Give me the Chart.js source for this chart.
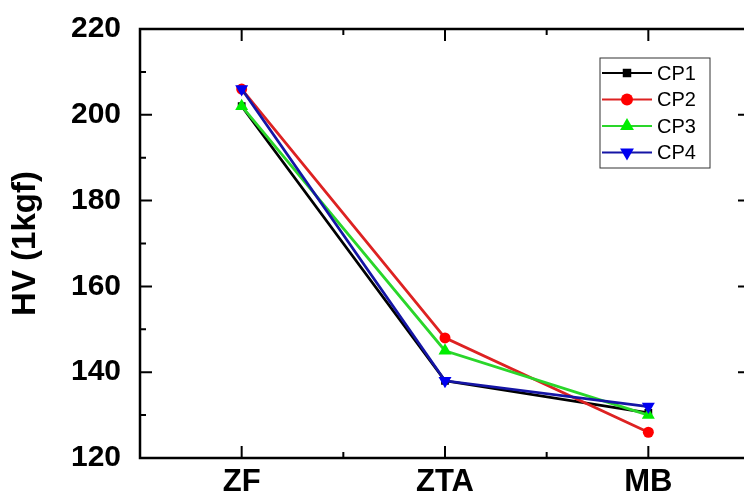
<!DOCTYPE html>
<html>
<head>
<meta charset="utf-8">
<script src="https://cdn.jsdelivr.net/npm/chart.js@4.4.0/dist/chart.umd.min.js"></script>
<style>
  body { margin: 0; background: #fff; overflow: hidden; }
  #myChart { display: block; }
</style>
</head>
<body>
<canvas id="myChart" width="760" height="499"></canvas>
<script>
const zonas = ["ZF", "ZTA", "MB"];
const cp1 = [202, 138, 130.5];
const cp2 = [206, 148, 126];
const cp3 = [202, 145, 130];
const cp4 = [206, 138, 132];
const ticksY = [120, 140, 160, 180, 200, 220];

const ctx = document.getElementById("myChart");

// moldura com marcas para dentro + legenda dentro da area
const moldura = {
	id: "moldura",
	afterDraw(chart) {
		const c = chart.ctx;
		const a = chart.chartArea;
		const sx = chart.scales.x;
		const sy = chart.scales.y;
		c.save();
		c.strokeStyle = "#000";
		c.lineWidth = 2.5;
		c.strokeRect(a.left, a.top, a.right - a.left, a.bottom - a.top);
		c.lineWidth = 2;
		c.beginPath();
		for (let i = 0; i < ticksY.length; i++) {
			let y = sy.getPixelForValue(ticksY[i]);
			c.moveTo(a.left, y); c.lineTo(a.left + 12, y);
			c.moveTo(a.right, y); c.lineTo(a.right - 12, y);
			if (i < ticksY.length - 1) {
				let ym = sy.getPixelForValue(ticksY[i] + 10);
				c.moveTo(a.left, ym); c.lineTo(a.left + 6, ym);
				c.moveTo(a.right, ym); c.lineTo(a.right - 6, ym);
			}
		}
		for (let i = 0; i < zonas.length; i++) {
			let x = sx.getPixelForValue(i);
			c.moveTo(x, a.bottom); c.lineTo(x, a.bottom - 12);
			c.moveTo(x, a.top); c.lineTo(x, a.top + 12);
			if (i < zonas.length - 1) {
				let xm = sx.getPixelForValue(i + 0.5);
				c.moveTo(xm, a.bottom); c.lineTo(xm, a.bottom - 6);
				c.moveTo(xm, a.top); c.lineTo(xm, a.top + 6);
			}
		}
		c.stroke();

		// legenda
		const lx = 600, ly = 58;
		c.lineWidth = 1;
		c.strokeStyle = "#333";
		c.fillStyle = "#fff";
		c.fillRect(lx, ly, 110, 110);
		c.strokeRect(lx, ly, 110, 110);
		chart.data.datasets.forEach((ds, i) => {
			let y = ly + 15 + i * 26.5;
			c.strokeStyle = ds.borderColor;
			c.lineWidth = 1.8;
			c.beginPath();
			c.moveTo(lx + 2, y); c.lineTo(lx + 52, y);
			c.stroke();
			c.fillStyle = ds.pointBackgroundColor;
			c.strokeStyle = ds.pointBackgroundColor;
			Chart.helpers.drawPoint(c, {
				pointStyle: ds.pointStyle,
				radius: ds.pointRadius + 0.5,
				rotation: ds.pointRotation || 0,
				borderWidth: 0
			}, lx + 27, y);
			c.fillStyle = "#000";
			c.font = "20px 'Liberation Sans', Arial, sans-serif";
			c.textBaseline = "middle";
			c.textAlign = "left";
			c.fillText(ds.label, lx + 57, y + 1);
		});
		c.restore();
	}
};

function serie(label, data, linha, ponto, estilo, raio, rot, ordem) {
	return {
		label: label,
		data: data,
		borderColor: linha,
		backgroundColor: ponto,
		pointBackgroundColor: ponto,
		pointBorderColor: ponto,
		pointBorderWidth: 0,
		pointStyle: estilo,
		pointRadius: raio,
		pointRotation: rot,
		borderWidth: 2.8,
		tension: 0,
		order: ordem
	};
}

let grafico = new Chart(ctx, {
	type: "line",
	data: {
		labels: zonas,
		datasets: [
			serie("CP1", cp1, "#000000", "#000000", "rect", 5.5, 0, 4),
			serie("CP2", cp2, "#dd2222", "#ff0000", "circle", 5.5, 0, 3),
			serie("CP3", cp3, "#2ad62a", "#00ee00", "triangle", 7.5, 0, 2),
			serie("CP4", cp4, "#1515a5", "#0000f0", "triangle", 7.5, 180, 1)
		]
	},
	plugins: [moldura],
	options: {
		responsive: false,
		animation: false,
		devicePixelRatio: 1,
		layout: { padding: { top: 23, right: 10, left: 0, bottom: 0 } },
		plugins: {
			legend: { display: false },
			tooltip: { enabled: false }
		},
		scales: {
			x: {
				offset: true,
				grid: { display: false },
				border: { display: false },
				ticks: {
					color: "#000",
					padding: -2,
					font: { family: "'Liberation Sans', Arial, sans-serif", size: 31, weight: "bold" }
				},
				afterFit(scale) { scale.height = 41; }
			},
			y: {
				min: 120,
				max: 220,
				grid: { display: false },
				border: { display: false },
				afterBuildTicks(scale) { scale.ticks = ticksY.map(v => ({ value: v })); },
				ticks: {
					color: "#000",
					padding: 11,
					font: { family: "'Liberation Sans', Arial, sans-serif", size: 30, weight: "bold" }
				},
				title: {
					display: true,
					text: "HV (1kgf)",
					color: "#000",
					padding: { top: 6, bottom: 0 },
					font: { family: "'Liberation Sans', Arial, sans-serif", size: 33, weight: "bold" }
				},
				afterFit(scale) { scale.width = 140; }
			}
		}
	}
});
</script>
</body>
</html>
